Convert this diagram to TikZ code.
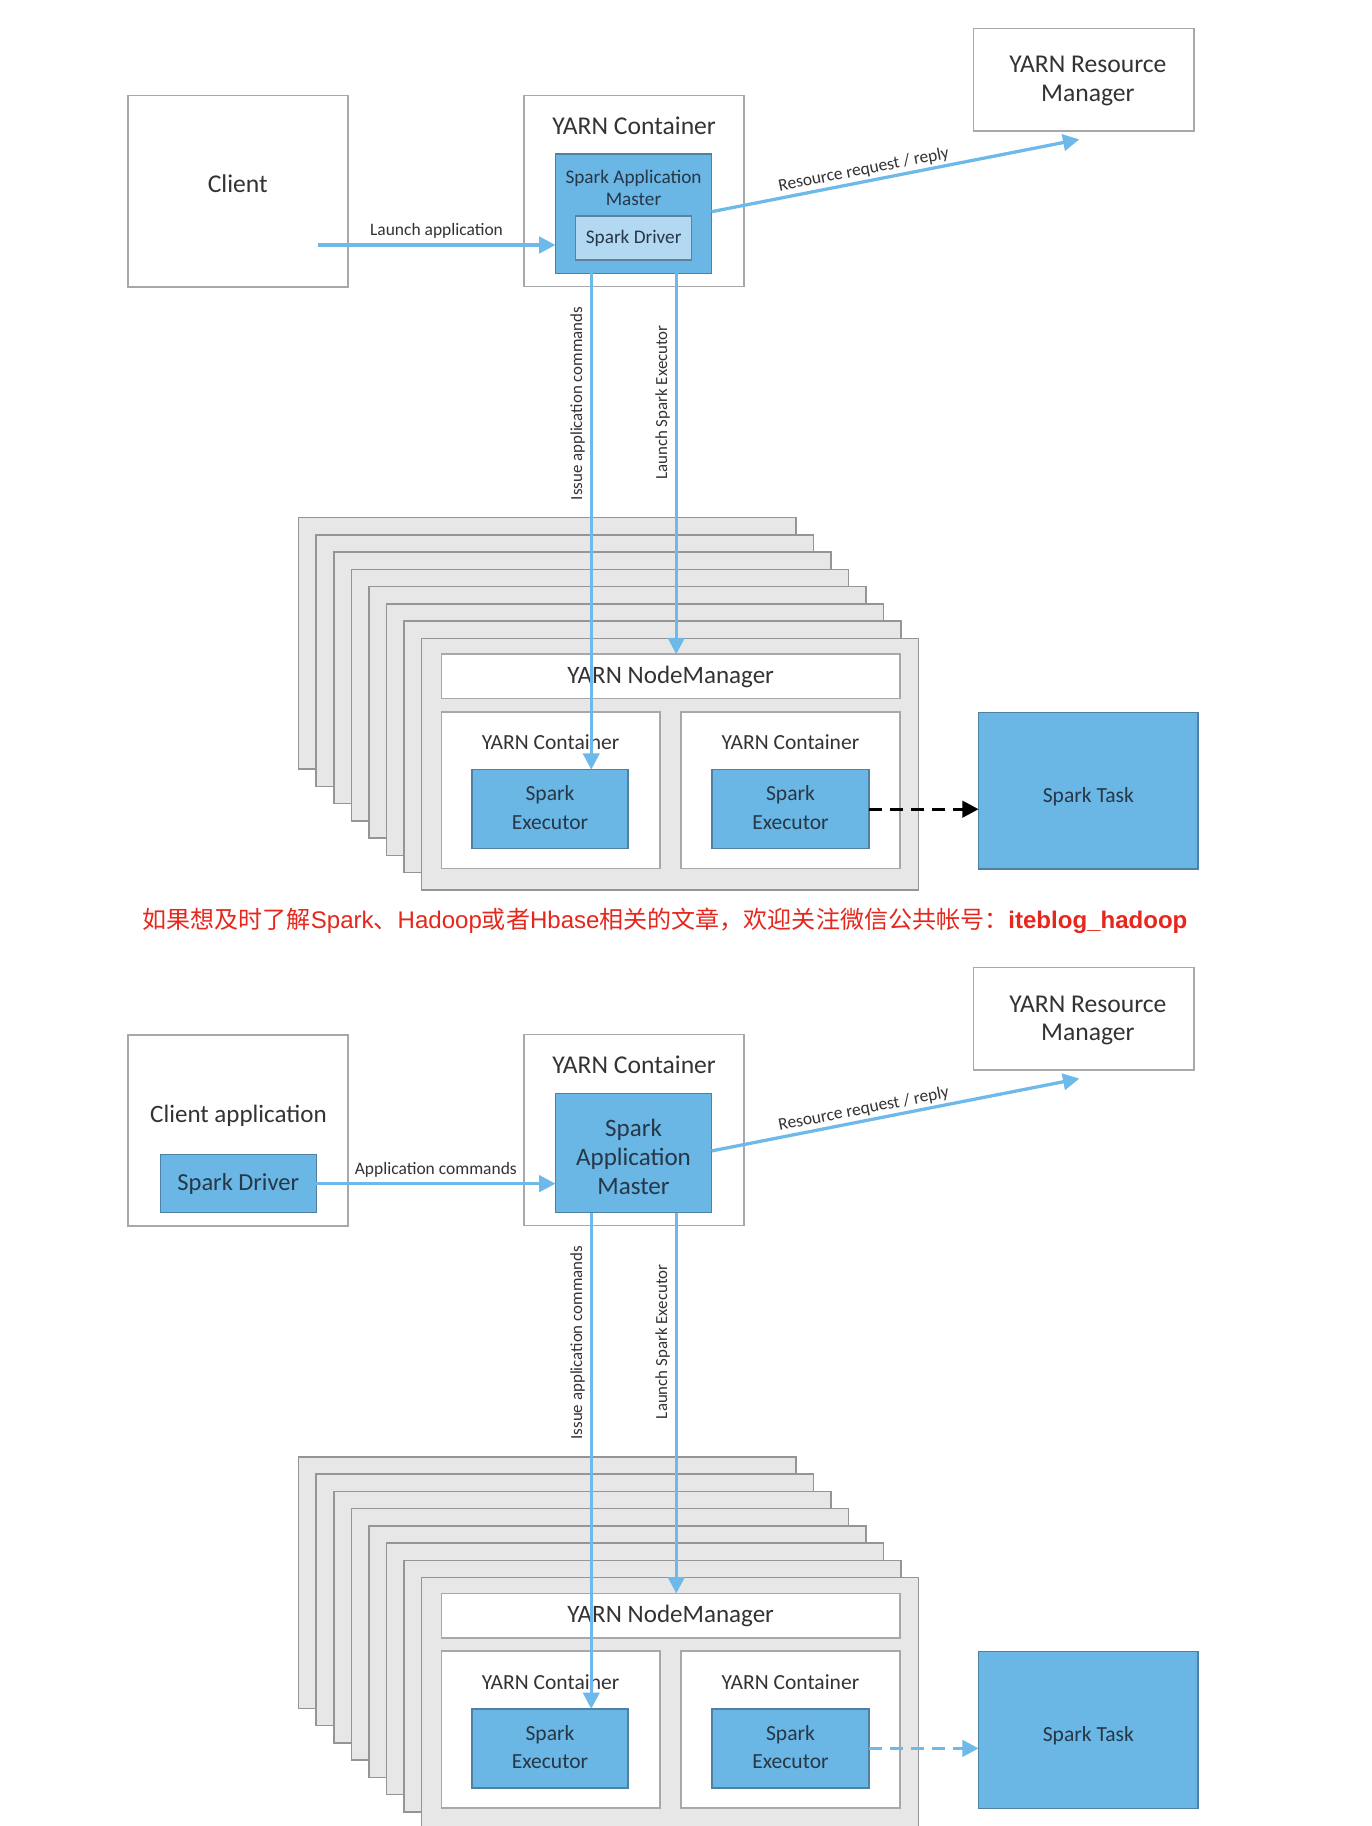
\documentclass[tikz,border=0pt]{standalone}
\usepackage{fontspec}
\setmainfont{Carlito}
\newfontfamily\cjkf{Noto Sans CJK SC}
\newfontfamily\libf{Liberation Sans}
\usetikzlibrary{arrows.meta,calc}
\definecolor{sblue}{HTML}{6AB6E4}
\definecolor{sline}{HTML}{6CB9EA}
\definecolor{sbord}{HTML}{4F80A6}
\definecolor{lblue}{HTML}{B3D8F1}
\definecolor{cardfill}{HTML}{E7E7E7}
\definecolor{cardbord}{HTML}{959595}
\definecolor{boxbord}{HTML}{A8A8A8}
\definecolor{txt}{HTML}{333333}
\definecolor{txtd}{HTML}{263747}
\definecolor{redtxt}{HTML}{E5271D}
\tikzset{
  rect/.style={rectangle, inner sep=0pt, outer sep=0pt, anchor=north west},
  wbox/.style={rect, draw=boxbord, line width=1.3pt, fill=white},
  bbox/.style={rect, draw=sbord, line width=1.1pt, fill=sblue},
  dbox/.style={rect, draw=sbord!60!gray, line width=1.1pt, fill=lblue},
  card/.style={rect, draw=cardbord, line width=1.3pt, fill=cardfill},
  lbl/.style={text=txt, inner sep=0pt},
  lbld/.style={text=txtd, inner sep=0pt},
  conn/.style={draw=sline, line width=2.8pt, -{Triangle[length=14pt,width=14pt]}},
  small/.style={font=\fontsize{15}{17}\selectfont},
}
\newcommand\rbox[6]{%
  \pgfmathsetmacro\rw{#5-#3}\pgfmathsetmacro\rh{#6-#4}%
  \node[#1, minimum width=\rw pt, minimum height=\rh pt] (#2) at (#3,#4) {};}
\newcommand\sparkpart[3]{%
\begin{scope}[shift={(0,#2)}]
  % resource manager
  \rbox{wbox}{rm#1}{835.9}{24.3}{1025.5}{112.5}
  \node[lbl, align=center, font=\fontsize{22}{24.3}\selectfont] (rmt#1) at (934.2,69.5) {YARN Resource\\Manager};
  % yarn container for AM
  \rbox{wbox}{yc#1}{450}{82}{639}{246}
  \node[lbl, font=\fontsize{22}{24}\selectfont] (yct#1) at (544.5,108) {YARN Container};
  \rbox{bbox}{am#1}{477}{132.3}{611}{234.8}
  % stack of node cards
  \foreach \i in {0,...,7}{
    \pgfmathsetmacro\cx{256.5+15.05*\i}\pgfmathsetmacro\cy{444.5+14.8*\i}
    \node[card, minimum width=427pt, minimum height=216pt] (card#1\i) at (\cx,\cy) {};
  }
  \rbox{wbox}{nm#1}{379}{561.8}{772.8}{599.9}
  \node[lbl, font=\fontsize{21.5}{24}\selectfont] (nmt#1) at (575.9,581.3) {YARN NodeManager};
  \rbox{wbox}{ca#1}{379}{611.4}{566.6}{745.9}
  \rbox{wbox}{cb#1}{584.8}{611.4}{772.8}{745.9}
  \node[lbl, font=\fontsize{18.5}{20}\selectfont] (cat#1) at (472.8,637.7) {YARN Container};
  \node[lbl, font=\fontsize{18.5}{20}\selectfont] (cbt#1) at (678.8,637.7) {YARN Container};
  \rbox{bbox}{ea#1}{405.3}{660.9}{539.3}{728.8}
  \rbox{bbox}{eb#1}{611.5}{660.9}{746.2}{728.8}
  \node[lbld, align=center, font=\fontsize{18.5}{24.3}\selectfont] (eat#1) at (472.3,693.6) {Spark\\Executor};
  \node[lbld, align=center, font=\fontsize{18.5}{24.3}\selectfont] (ebt#1) at (678.8,693.6) {Spark\\Executor};
  \rbox{bbox}{task#1}{840.4}{611.9}{1028.8}{746.2}
  \node[lbld, font=\fontsize{18.5}{20}\selectfont] (taskt#1) at (934.6,684.4) {Spark Task};
  % connectors
  \coordinate (rs#1) at (611,181.8);
  \coordinate (rmtip#1) at (926.8,119.7);
  \draw[conn] (rs#1) -- node[lbl, small, sloped, above, pos=0.42, yshift=2pt] (rrl#1) {Resource request / reply} (rmtip#1);
  \coordinate (xa#1) at (507.7,0);
  \coordinate (xb#1) at (580.7,0);
  \draw[conn] (am#1.south -| xa#1) -- node[lbl, font=\fontsize{14.5}{16}\selectfont, pos=0.262, rotate=90, anchor=south, inner sep=4pt] (ial#1) {Issue application commands} (ea#1.north -| xa#1);
  \draw[conn] (am#1.south -| xb#1) -- node[lbl, font=\fontsize{14.5}{16}\selectfont, pos=0.339, rotate=90, anchor=south, inner sep=4pt] (lsl#1) {Launch Spark Executor} (nm#1.north -| xb#1);
  \draw[#3, line width=2.8pt, dash pattern=on 11pt off 7pt, -{Triangle[length=14pt,width=14pt]}] (eb#1.east) -- (eb#1.east -| task#1.west);
\end{scope}}
\begin{document}
\begin{tikzpicture}[x=1pt,y=-1pt]
\useasboundingbox (0,0) rectangle (1178,1568);
\clip (0,0) rectangle (1178,1568);
\fill[white] (0,0) rectangle (1178,1568);
% ---------- top diagram ----------
\sparkpart{t}{0}{black}
\rbox{wbox}{cl}{109.7}{82.2}{298.8}{246.3}
\node[lbl, font=\fontsize{22}{24}\selectfont] (clt) at (204.2,158) {Client};
\rbox{dbox}{drv}{494.3}{185.5}{594}{223.3}
\node[lbld, font=\fontsize{16.5}{19}\selectfont] (drvt) at (drv.center) {Spark Driver};
\node[lbld, align=center, font=\fontsize{16.5}{19.2}\selectfont] (amtt) at (544,161.4) {Spark Application\\Master};
\coordinate (ls) at (272.7,210.4);
\draw[conn] (ls) -- node[lbl, small, above=4pt] (lal) {Launch application} (amt.west |- ls);
% ---------- caption ----------
\node[anchor=west, inner sep=0pt, text=redtxt, font=\fontsize{20.65}{22}\selectfont] (cap) at (122.2,790.3)
  {\cjkf 如果想及时了解\libf Spark\cjkf 、\libf Hadoop\cjkf 或者\libf Hbase\cjkf 相关的文章，欢迎关注微信公共帐号：\libf\bfseries iteblog\_hadoop};
% ---------- bottom diagram ----------
\sparkpart{b}{806.5}{sline}
\rbox{wbox}{cl2}{109.7}{888.7}{298.8}{1052.8}
\node[lbl, font=\fontsize{21.5}{24}\selectfont] (cl2t) at (204.8,957.8) {Client application};
\rbox{bbox}{spd}{137.7}{991.5}{271.5}{1041.3}
\node[lbld, font=\fontsize{21}{24}\selectfont] (spdt) at (spd.center) {Spark Driver};
\node[lbld, align=center, font=\fontsize{21.5}{24.8}\selectfont] (ambt) at (544,993.2) {Spark\\Application\\Master};
\draw[conn] (spd.east) -- node[lbl, small, above=4pt] (acl) {Application commands} (amb.west |- spd.east);
\end{tikzpicture}
\end{document}
